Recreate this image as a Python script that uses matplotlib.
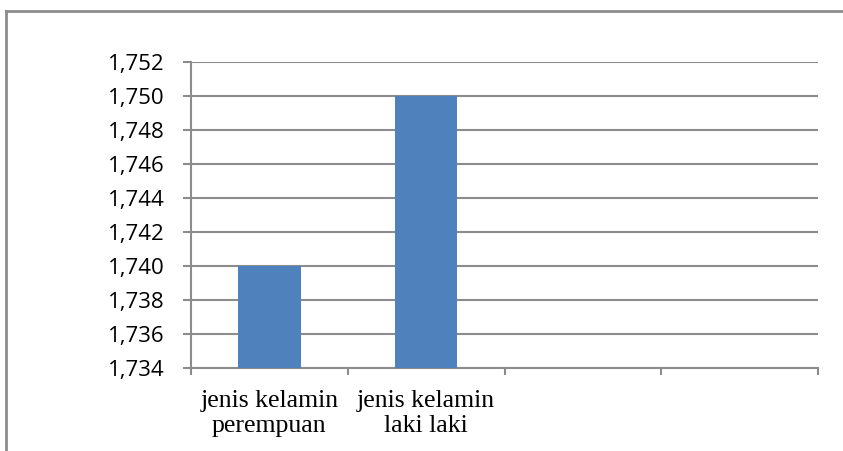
import matplotlib.pyplot as plt
from matplotlib.lines import Line2D
from matplotlib.ticker import FuncFormatter
from matplotlib.transforms import offset_copy

categories = ['jenis kelamin\nperempuan', 'jenis kelamin\nlaki laki', '', '']
values = [1.740, 1.750, None, None]
y_ticks = [1.734, 1.736, 1.738, 1.740, 1.742, 1.744, 1.746, 1.748, 1.750, 1.752]

W, H = 843, 451
fig = plt.figure(figsize=(W / 100, H / 100), dpi=100)
ax = fig.add_axes([191 / W, 1 - 368 / H, (818 - 191) / W, (368 - 62) / H])

grey = '#8c8c8c'
bar_color = '#4f81bd'

xs = [i for i, v in enumerate(values) if v is not None]
hs = [v - y_ticks[0] for v in values if v is not None]
ax.bar(xs, hs, bottom=y_ticks[0], width=0.4, color=bar_color, zorder=3)

ax.set_xlim(-0.5, len(categories) - 0.5)
ax.set_ylim(y_ticks[0], y_ticks[-1])
ax.set_yticks(y_ticks)
ax.yaxis.set_major_formatter(FuncFormatter(lambda v, p: f'{v:.3f}'.replace('.', ',')))
ax.grid(axis='y', color=grey, linewidth=1.5, zorder=1)
ax.set_axisbelow(True)

for s in ['top', 'right']:
    ax.spines[s].set_visible(False)
for s in ['left', 'bottom']:
    ax.spines[s].set_color(grey)
    ax.spines[s].set_linewidth(1.5)

ax.tick_params(axis='y', length=6, width=1.5, color=grey, pad=13,
               labelsize=16, labelcolor='black')
for lab in ax.get_yticklabels():
    lab.set_fontfamily('Open Sans')

# category ticks sit on the boundaries
ax.set_xticks([i - 0.5 for i in range(len(categories) + 1)])
ax.set_xticklabels([])
ax.tick_params(axis='x', length=5, width=1.5, color=grey)
label_tr = offset_copy(ax.get_xaxis_transform(), fig=fig, y=-22, units='dots')
for i, c in enumerate(categories):
    ax.text(i, 0, c, transform=label_tr, ha='center', va='top',
            fontsize=18.5, family='Liberation Serif', linespacing=1.2,
            color='black')

# chart area border (only left and top visible)
fig.add_artist(Line2D([6 / W, 6 / W], [0, 1 - 11 / H], color=grey, linewidth=2,
                      transform=fig.transFigure))
fig.add_artist(Line2D([6 / W, 1], [1 - 11 / H, 1 - 11 / H], color=grey, linewidth=2,
                      transform=fig.transFigure))

fig.savefig('out.png', dpi=100)
